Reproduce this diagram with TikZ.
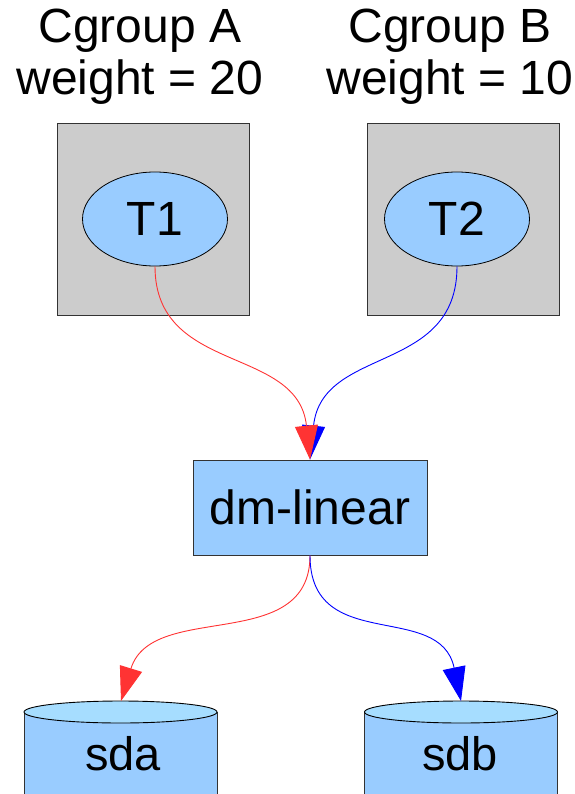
\documentclass[tikz,border=0pt]{standalone}
\usepackage{fontspec}
\setmainfont{Liberation Sans}
\usetikzlibrary{shapes.geometric,arrows.meta}

\definecolor{boxgray}{HTML}{CCCCCC}
\definecolor{lightblue}{HTML}{99CCFF}
\definecolor{disktop}{HTML}{A6DDFF}
\definecolor{redline}{HTML}{FF3333}
\definecolor{blueline}{HTML}{0000FF}

\tikzset{
  bigtext/.style={font=\fontsize{48}{51}\selectfont},
  disktext/.style={font=\fontsize{47}{51}\selectfont},
  cgroupbox/.style={draw=black!80, fill=boxgray, line width=0.9pt,
    minimum width=192pt, minimum height=192pt, inner sep=0pt},
  task/.style={ellipse, draw=black, fill=lightblue, line width=0.8pt,
    minimum width=145pt, minimum height=94pt, inner sep=0pt, bigtext},
  devbox/.style={draw=black!80, fill=lightblue, line width=0.9pt,
    minimum width=234pt, minimum height=95pt, inner sep=0pt, bigtext},
  flowred/.style={draw=redline, line width=0.9pt,
    -{Triangle[length=34pt,width=23pt,fill=redline]}},
  flowblue/.style={draw=blueline, line width=0.9pt,
    -{Triangle[length=34pt,width=23pt,fill=blueline]}},
}

\begin{document}
\begin{tikzpicture}[x=1pt,y=-1pt]
\useasboundingbox (0,0) rectangle (574,794);

% cgroup titles
\node[bigtext, anchor=base] (ta1) at (140,43) {Cgroup A};
\node[bigtext, anchor=base] (ta2) at (140,95) {weight = 20};
\node[bigtext, anchor=base] (tb1) at (450,43) {Cgroup B};
\node[bigtext, anchor=base] (tb2) at (450,95) {weight = 10};

% cgroup boxes with their tasks
\node[cgroupbox] (ga) at (153,219) {};
\node[cgroupbox] (gb) at (463,219) {};
\node[task] (t1) at (155,219) {T1};
\node[task] (t2) at (457,219) {T2};

% device-mapper target
\node[devbox] (dm) at (310,507.5) {dm-linear};

% disks drawn as cylinders, cut off by the page edge
\begin{scope}
  \clip (0,0) rectangle (574,794);
  \foreach \cx in {120.5, 461}{
    \fill[lightblue] (\cx-96.5,712) rectangle (\cx+96.5,820);
    \draw[black!80, line width=0.9pt] (\cx-96.5,712) -- (\cx-96.5,820)
      (\cx+96.5,712) -- (\cx+96.5,820);
    \draw[black, line width=0.9pt, fill=disktop] (\cx,712) ellipse [x radius=96.5, y radius=11];
  }
\end{scope}
\coordinate (sdatop) at (121,701);
\coordinate (sdbtop) at (461,701);
\node[disktext, anchor=base] (sda) at (123,770) {sda};
\node[disktext, anchor=base] (sdb) at (460,770) {sdb};

% I/O flows
\draw[flowblue] (t2.south) .. controls (457,375) and (322,345) .. (dm.north);
\draw[flowred]  (t1.south) .. controls (155,375) and (298,345) .. (dm.north);
\draw[flowred]  (dm.south) .. controls (310,655) and (152,600) .. (sdatop);
\draw[flowblue] (dm.south) .. controls (310,655) and (440,600) .. (sdbtop);
\end{tikzpicture}
\end{document}
